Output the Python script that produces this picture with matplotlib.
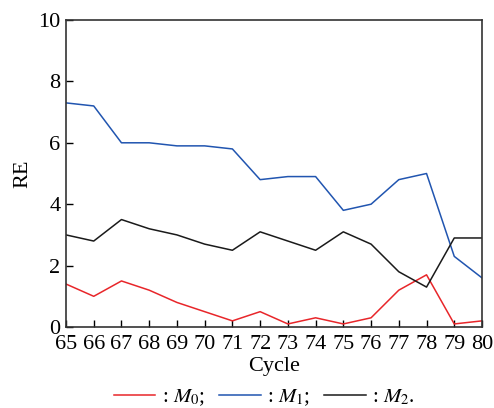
import matplotlib
matplotlib.use('Agg')
import matplotlib.pyplot as plt

plt.rcParams['font.family'] = ['Liberation Serif', 'DejaVu Serif']
plt.rcParams['mathtext.fontset'] = 'stix'

cycle = list(range(65, 81))
m0 = [1.4, 1.0, 1.5, 1.2, 0.8, 0.5, 0.2, 0.5, 0.1, 0.3, 0.1, 0.3, 1.2, 1.7, 0.1, 0.2]
m1 = [7.3, 7.2, 6.0, 6.0, 5.9, 5.9, 5.8, 4.8, 4.9, 4.9, 3.8, 4.0, 4.8, 5.0, 2.3, 1.6]
m2 = [3.0, 2.8, 3.5, 3.2, 3.0, 2.7, 2.5, 3.1, 2.8, 2.5, 3.1, 2.7, 1.8, 1.3, 2.9, 2.9]
labels = [': $M_0$;', ': $M_1$;', ': $M_2$.']
colors = ['#e8262a', '#2155b0', '#1a1a1a']

fig = plt.figure(figsize=(4.94, 4.08), dpi=100)
ax = fig.add_axes([0.1336, 0.1985, 0.8421, 0.7525])

for y, c, lab in zip([m0, m1, m2], colors, labels):
    ax.plot(cycle, y, color=c, lw=1.1, label=lab)

ax.set_xlim(65, 80)
ax.set_ylim(0, 10)
ax.set_xticks(cycle)
ax.set_yticks([0, 2, 4, 6, 8, 10])
ax.tick_params(direction='in', labelsize=16, length=5, width=1)
ax.tick_params(axis='x', pad=6)
ax.tick_params(axis='y', pad=4)
for s in ax.spines.values():
    s.set_linewidth(1.2)
    s.set_color('#333333')
ax.set_xlabel('Cycle', fontsize=16, labelpad=2)
ax.set_ylabel('RE', fontsize=16, labelpad=4)

fig.legend(loc='lower center', bbox_to_anchor=(0.535, -0.045), ncol=3, frameon=False,
           fontsize=15, handlelength=2.0, handletextpad=0.3, columnspacing=0.7)

fig.savefig('out.png', dpi=100)
